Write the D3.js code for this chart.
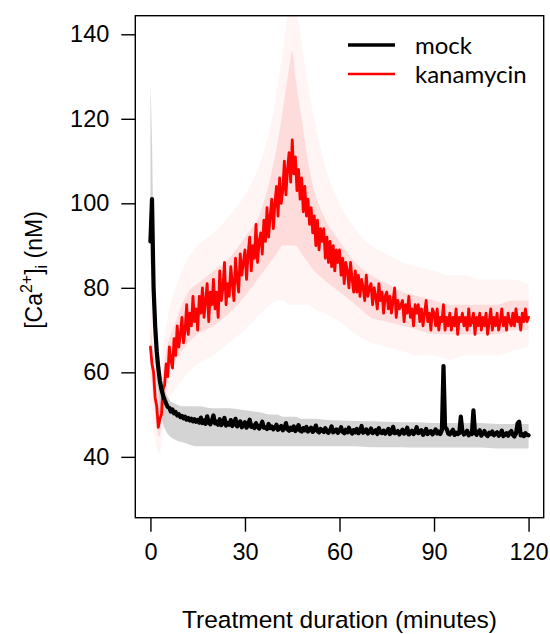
<!DOCTYPE html>
<html><head><meta charset="utf-8">
<script src="https://cdn.jsdelivr.net/npm/d3@7/dist/d3.min.js"></script>
<style>body{margin:0;background:#fff}</style>
</head><body><svg id="chart" width="550" height="634"></svg>
<script>
// ---- data ----
const SAMPLE_STEP = 0.5; // minutes between samples of the mean traces
const xTicks = [0, 30, 60, 90, 120];
const yTicks = [40, 60, 80, 100, 120, 140];
const seriesNames = ["mock", "kanamycin"];

const kanamycin = [
66, 62, 60, 54, 52, 47, 49, 50, 56, 57,
62, 59, 66, 63, 61, 68, 64, 71, 66, 69,
73, 67, 70, 76, 69, 74, 71, 78, 72, 75,
70, 78, 74, 80, 73, 77, 81, 72, 79, 76,
82, 75, 79, 73, 84, 77, 80, 86, 76, 81,
78, 85, 81, 77, 87, 82, 79, 88, 83, 86,
89, 82, 88, 92, 84, 90, 87, 95, 86, 91,
93, 88, 96, 91, 99, 92, 97, 101, 94, 100,
104, 97, 106, 100, 103, 110, 102, 108, 112, 105,
115, 107, 111, 103, 108, 101, 106, 98, 104, 97,
101, 95, 99, 93, 97, 90, 96, 89, 94, 91,
94, 87, 92, 86, 91, 85, 90, 84, 89, 86,
89, 83, 87, 81, 86, 84, 80, 86, 82, 79,
84, 79, 83, 78, 82, 80, 77, 83, 78, 80,
81, 76, 80, 78, 75, 81, 77, 79, 74, 78,
79, 75, 78, 74, 77, 80, 73, 77, 75, 76,
77, 72, 76, 74, 78, 73, 75, 71, 76, 74,
76, 72, 75, 71, 74, 77, 72, 74, 70, 75,
74, 71, 75, 70, 73, 72, 76, 70, 73, 71,
74, 70, 73, 71, 75, 69, 73, 72, 74, 71,
73, 70, 75, 71, 72, 74, 69, 73, 71, 74,
70, 73, 71, 74, 69, 72, 75, 70, 73, 71,
74, 70, 72, 75, 71, 73, 70, 74, 72, 71,
74, 71, 75, 72, 73, 70, 74, 72, 75, 72,
73
];

const mock = [
91, 101, 80, 71, 65, 61, 58, 56, 54.5, 53.5,
52.6, 51.8, 51.6, 50.7, 51.2, 50.3, 50.6, 49.8, 50.1, 49.4,
49.7, 49.1, 49.5, 48.8, 49.2, 48.6, 49.0, 48.4, 48.9, 48.3,
48.7, 48.1, 49.3, 48.0, 48.6, 47.8, 49.6, 48.2, 47.7, 48.5,
49.8, 47.9, 48.3, 47.6, 48.9, 47.5, 48.1, 49.2, 47.4, 48.0,
47.6, 48.7, 47.3, 47.9, 49.0, 47.2, 47.7, 48.4, 47.0, 47.6,
48.2, 46.9, 47.5, 48.8, 47.1, 47.4, 46.8, 48.0, 47.2, 46.7,
47.3, 48.3, 46.9, 47.0, 46.6, 47.8, 46.8, 47.2, 46.5, 46.9,
47.6, 46.4, 46.8, 47.3, 46.3, 46.7, 48.0, 46.5, 46.2, 46.9,
46.4, 47.2, 46.1, 46.6, 47.5, 46.2, 46.0, 46.8, 46.3, 47.1,
46.0, 46.5, 46.9, 45.9, 46.4, 47.4, 46.1, 45.8, 46.6, 46.2,
45.9, 46.8, 46.0, 45.7, 46.3, 47.2, 45.8, 46.1, 46.5, 45.7,
46.2, 47.0, 45.9, 45.6, 46.4, 45.8, 46.9, 46.0, 45.5, 46.3,
45.8, 46.6, 45.6, 46.1, 47.3, 45.7, 45.9, 46.5, 45.5, 46.0,
46.7, 45.6, 45.9, 46.3, 45.4, 46.8, 45.8, 45.6, 46.2, 45.5,
45.9, 46.6, 45.4, 45.8, 47.1, 45.6, 45.7, 46.1, 45.3, 45.9,
46.4, 45.5, 45.8, 46.9, 45.3, 45.7, 46.2, 45.4, 45.9, 47.0,
45.6, 45.8, 46.3, 45.2, 45.7, 46.6, 45.4, 45.9, 46.1, 45.3,
45.8, 46.5, 45.5, 46.0, 45.4, 46.3, 61.5, 47.0, 46.6, 45.5,
45.3, 45.9, 46.4, 45.2, 45.7, 45.4, 45.6, 49.5, 46.0, 45.3,
45.7, 46.2, 45.1, 45.6, 45.4, 51.0, 45.8, 45.2, 45.9, 46.3,
45.0, 45.5, 46.1, 45.3, 44.9, 45.7, 45.4, 46.0, 45.1, 45.5,
45.8, 45.0, 45.4, 46.2, 44.9, 45.3, 45.6, 45.0, 45.7, 46.1,
45.2, 44.8, 45.5, 47.9, 48.3, 45.1, 45.4, 44.9, 45.6, 45.2,
45.1
];

// spread bands (read from the shaded regions)
const bandTimes = [0,0.5,1,1.5,2,2.5,3,3.5,4,5,6,8,10,12,15,20,25,30,35,38,40,42,44,45,46,48,50,52,55,60,65,70,75,80,85,90,95,100,105,110,115,120];
const kanaOuterLo = [52,49,46,44,42,41,41,43,46,50,53,56,58,60,62,64,67,70,74,76,77,77,76,76,76,76,76,75,74,72,69,67,66,65,64,64,63,64,64,64,65,66];
const kanaOuterHi = [80,76,72,68,64,60,60,63,66,71,75,80,84,87,90,93,97,102,110,118,126,136,146,148,146,138,128,120,110,100,94,90,88,86,85,84,83,83,82,82,82,81];
const kanaInnerLo = [60,57,53,50,47,45,45,48,52,56,60,63,65,67,69,71,74,78,83,86,88,90,90,90,90,88,86,84,82,79,76,73,72,71,70,69,69,69,69,69,70,70];
const kanaInnerHi = [71,68,64,60,56,53,53,56,60,65,68,72,76,79,81,84,87,92,98,106,113,122,132,136,130,120,110,103,97,91,86,83,81,79,78,77,76,76,76,76,77,77];
const mockLo = [86,82,70,63,58,55,52,50,48,46,45,44,43.5,43,42.5,42.5,42.5,42.5,42.5,42.5,42.5,42.5,42.5,42.5,42.5,42.5,42.5,42.5,42.5,42.5,42.5,42.3,42.3,42.3,42.2,42.2,42.2,42.2,42.2,42,42,42];
const mockHi = [128,115,92,80,72,66,62,59,57,55,53.5,52.5,52,52,52,51.5,51.5,51,50.5,50,50,49.5,49.5,49.5,49.5,49,49,49,48.8,48.6,48.5,48.4,48.3,48.2,48.2,48,48,48,48,47.8,47.8,47.8];

// ---- drawing ----
const svg = d3.select("#chart");
const FONT = "'Liberation Sans', Arial, sans-serif";
const L = 135.3, R = 543.7, T = 15.7, B = 517.7;
const x = d3.scaleLinear().domain([-4.8, 124.8]).range([L, R]);
const y = d3.scaleLinear().domain([25.6, 144.4]).range([B, T]);

svg.append("clipPath").attr("id", "clip")
  .append("rect").attr("x", L).attr("y", T).attr("width", R - L).attr("height", B - T);
const plot = svg.append("g").attr("clip-path", "url(#clip)");

function band(lo, hi) {
  return d3.area().curve(d3.curveMonotoneX).x((d, i) => x(bandTimes[i])).y0((d, i) => y(lo[i])).y1((d, i) => y(hi[i]))(bandTimes);
}
plot.append("path").attr("d", band(kanaOuterLo, kanaOuterHi)).attr("fill", "#ff0000").attr("fill-opacity", 0.04);
plot.append("path").attr("d", band(kanaInnerLo, kanaInnerHi)).attr("fill", "#ff0000").attr("fill-opacity", 0.1);
plot.append("path").attr("d", band(mockLo, mockHi)).attr("fill", "#888").attr("fill-opacity", 0.36);

const line = d3.line().x((d, i) => x(i * SAMPLE_STEP)).y(d => y(d));
plot.append("path").attr("d", line(kanamycin)).attr("fill", "none").attr("stroke", "#ff0000")
  .attr("stroke-width", 2.8).attr("stroke-linejoin", "round").attr("stroke-linecap", "round");
plot.append("path").attr("d", line(mock)).attr("fill", "none").attr("stroke", "#000")
  .attr("stroke-width", 4.2).attr("stroke-linejoin", "round").attr("stroke-linecap", "round");

// axes
const yAxis = svg.append("g").attr("transform", `translate(${L},0)`)
  .call(d3.axisLeft(y).tickValues(yTicks).tickSize(14).tickPadding(12).tickFormat(d3.format("d")));
const xAxis = svg.append("g").attr("transform", `translate(0,${B})`)
  .call(d3.axisBottom(x).tickValues(xTicks).tickSize(14).tickPadding(12).tickFormat(d3.format("d")));
[yAxis, xAxis].forEach(g => {
  g.select(".domain").remove();
  g.selectAll("line").attr("stroke", "#000").attr("stroke-width", 1.4);
  g.selectAll("text").attr("font-size", 23.5).attr("font-family", FONT).attr("fill", "#000");
});

// box
svg.append("rect").attr("x", L).attr("y", T).attr("width", R - L).attr("height", B - T)
  .attr("fill", "none").attr("stroke", "#000").attr("stroke-width", 1.4);

// axis titles
svg.append("text").attr("x", (L + R) / 2).attr("y", 628).attr("text-anchor", "middle")
  .attr("font-family", FONT).attr("font-size", 24.5).text("Treatment duration (minutes)");

const yt = svg.append("text").attr("transform", "translate(42,270) rotate(-90)")
  .attr("text-anchor", "middle").attr("font-family", FONT).attr("font-size", 23);
yt.append("tspan").text("[Ca");
yt.append("tspan").attr("font-size", 16).attr("dy", -10).text("2+");
yt.append("tspan").attr("dy", 10).text("]");
yt.append("tspan").attr("font-size", 16).attr("dy", 5).text("i");
yt.append("tspan").attr("dy", -5).text(" (nM)");

// legend
const LFONT = "Lato, 'Open Sans', sans-serif";
const legendColors = ["#000", "#ff0000"];
const legendWidths = [3.5, 2.5];
seriesNames.forEach((name, i) => {
  const ly = 45 + i * 29;
  svg.append("line").attr("x1", 348).attr("x2", 395).attr("y1", ly).attr("y2", ly)
    .attr("stroke", legendColors[i]).attr("stroke-width", legendWidths[i]);
  svg.append("text").attr("x", 415).attr("y", ly + 8.5).attr("font-family", LFONT)
    .attr("font-size", 24).attr("fill", "#000").text(name);
});
</script>
</body></html>
